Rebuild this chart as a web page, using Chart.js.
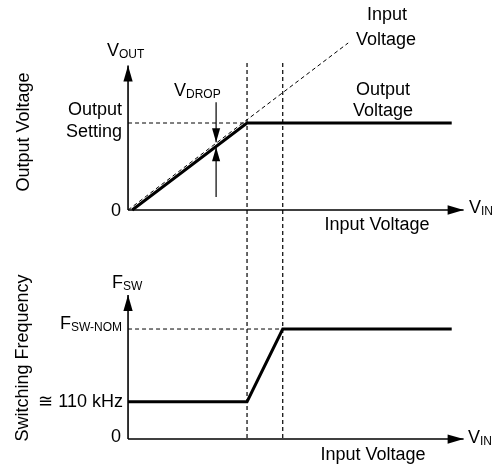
<!DOCTYPE html>
<html>
<head>
<meta charset="utf-8">
<script src="https://cdn.jsdelivr.net/npm/chart.js@4.4.0/dist/chart.umd.min.js"></script>
<style>
html, body { margin: 0; padding: 0; background: #fff; }
#wrap { width: 493px; height: 465px; }
</style>
</head>
<body>
<div id="wrap"><canvas id="myChart"></canvas></div>
<script>
// input voltage in arbitrary units, knee of the curve at 10
var axisX = [0, 28.2];
var axisTopY = [0, 1.66];
var axisBotY = [0, 1.31];

// top panel: output voltage (1 = output setting)
var vinIdealX = [0, 18.5];
var vinIdealY = [0, 1.92];
var voutX = [0.35, 10, 27.2];
var voutY = [0, 1, 1];
var settingX = [0, 10];
var settingY = [1, 1];
var dropX = 7.4;
var dropDown = [1.24, 0.78];
var dropUp = [0.15, 0.72];

// vertical markers, spanning both panels (top scale units)
var markerX = [10, 13];
var markerY = [1.69, -2.64];

// bottom panel: switching frequency (1 = F_SW-NOM)
var fswX = [0, 10, 13, 27.2];
var fswY = [0.34, 0.34, 1, 1];
var nomX = [0, 13];
var nomY = [1, 1];

function pts(xs, ys) {
  return xs.map(function(x, i) { return { x: x, y: ys[i] }; });
}

function line(xs, ys, axis, opts) {
  var ds = {
    data: pts(xs, ys),
    yAxisID: axis,
    borderColor: '#000',
    borderWidth: 1,
    pointRadius: 0,
    showLine: true,
    tension: 0,
    fill: false
  };
  for (var k in opts) ds[k] = opts[k];
  return ds;
}

var dash = [4, 3];
var datasets = [
  line(axisX, [0, 0], 'top', { borderWidth: 1.6, arrow: 16 }),
  line([0, 0], axisTopY, 'top', { borderWidth: 1.6, arrow: 16 }),
  line(vinIdealX, vinIdealY, 'top', { borderDash: dash }),
  line(settingX, settingY, 'top', { borderDash: dash }),
  line(voutX, voutY, 'top', { borderWidth: 3 }),
  line([dropX, dropX], dropDown, 'top', { borderWidth: 1.2, arrow: 14 }),
  line([dropX, dropX], dropUp, 'top', { borderWidth: 1.2, arrow: 14 }),
  line([markerX[0], markerX[0]], markerY, 'top', { borderDash: dash, borderWidth: 1.2 }),
  line([markerX[1], markerX[1]], markerY, 'top', { borderDash: dash, borderWidth: 1.2 }),
  line(axisX, [0, 0], 'bot', { borderWidth: 1.6, arrow: 16 }),
  line([0, 0], axisBotY, 'bot', { borderWidth: 1.6, arrow: 16 }),
  line(nomX, nomY, 'bot', { borderDash: dash }),
  line(fswX, fswY, 'bot', { borderWidth: 3 })
];

// arrow heads at the last point of a dataset
var arrowHeads = {
  id: 'arrowHeads',
  afterDatasetsDraw: function(chart) {
    var ctx = chart.ctx;
    chart.data.datasets.forEach(function(ds, i) {
      if (!ds.arrow) return;
      var pts = chart.getDatasetMeta(i).data;
      var a = pts[pts.length - 2], b = pts[pts.length - 1];
      var ang = Math.atan2(b.y - a.y, b.x - a.x);
      var len = ds.arrow, w = ds.arrow * 0.29;
      ctx.save();
      ctx.translate(b.x, b.y);
      ctx.rotate(ang);
      ctx.beginPath();
      ctx.moveTo(0, 0);
      ctx.lineTo(-len, -w);
      ctx.lineTo(-len, w);
      ctx.closePath();
      ctx.fillStyle = '#000';
      ctx.fill();
      ctx.restore();
    });
  }
};

var FONT = '"Liberation Sans", Arial, sans-serif';
// text: [main, sub, x, y, align, rotate]
var labels = [
  ['Input', '', 387, 15, 'center'],
  ['Voltage', '', 386, 40, 'center'],
  ['V', 'OUT', 107, 51, 'left'],
  ['V', 'DROP', 174, 91, 'left'],
  ['Output', '', 383, 90, 'center'],
  ['Voltage', '', 383, 111, 'center'],
  ['Output', '', 122, 110, 'right'],
  ['Setting', '', 122, 132, 'right'],
  ['0', '', 121, 211, 'right'],
  ['Input Voltage', '', 377, 225, 'center'],
  ['V', 'IN', 469, 208, 'left'],
  ['Output Voltage', '', 24, 132, 'center', true],
  ['Switching Frequency', '', 23, 358, 'center', true],
  ['F', 'SW', 112, 283, 'left'],
  ['F', 'SW-NOM', 122, 324, 'right'],
  ['\u2245 110 kHz', '', 123, 402, 'right'],
  ['0', '', 121, 437, 'right'],
  ['Input Voltage', '', 373, 455, 'center'],
  ['V', 'IN', 468, 438, 'left']
];

var textLabels = {
  id: 'textLabels',
  afterDraw: function(chart) {
    var ctx = chart.ctx;
    ctx.save();
    ctx.fillStyle = '#000';
    ctx.textBaseline = 'middle';
    labels.forEach(function(l) {
      var main = l[0], sub = l[1], x = l[2], y = l[3], align = l[4];
      ctx.font = '18px ' + FONT;
      var wMain = ctx.measureText(main).width;
      ctx.font = '12px ' + FONT;
      var wSub = sub ? ctx.measureText(sub).width : 0;
      var total = wMain + wSub;
      ctx.save();
      ctx.translate(x, y);
      if (l[5]) ctx.rotate(-Math.PI / 2);
      var x0 = align === 'left' ? 0 : align === 'right' ? -total : -total / 2;
      ctx.textAlign = 'left';
      ctx.font = '18px ' + FONT;
      ctx.fillText(main, x0, 0);
      if (sub) {
        ctx.font = '12px ' + FONT;
        ctx.fillText(sub, x0 + wMain, 4);
      }
      ctx.restore();
    });
    ctx.restore();
  }
};

var ctx = document.getElementById('myChart').getContext('2d');
var chart = new Chart(ctx, {
  type: 'scatter',
  data: { datasets: datasets },
  options: {
    responsive: true,
    maintainAspectRatio: false,
    animation: false,
    layout: { padding: 0 },
    plugins: { legend: { display: false }, tooltip: { enabled: false } },
    scales: {
      x: { type: 'linear', min: -10.76, max: 30.67, display: false },
      top: { type: 'linear', position: 'left', min: -2.931, max: 2.414, display: false },
      bot: { type: 'linear', position: 'left', min: -0.236, max: 3.991, display: false }
    }
  },
  plugins: [arrowHeads, textLabels]
});
</script>
</body>
</html>
